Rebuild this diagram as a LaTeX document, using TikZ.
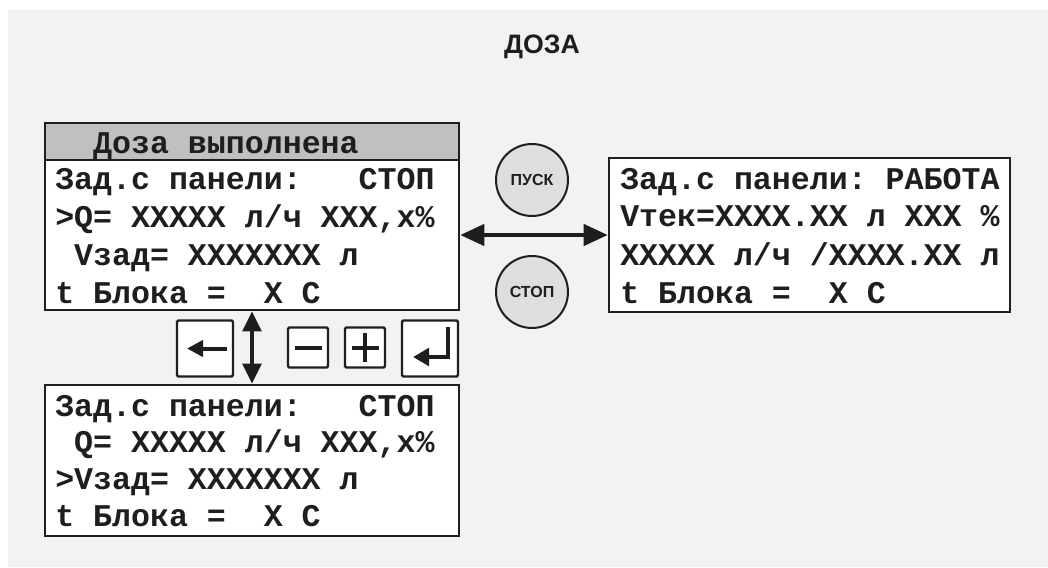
\documentclass[tikz,border=0pt]{standalone}
\usepackage{fontspec}
\newfontfamily\lcdfont{Liberation Mono}
\newfontfamily\labelfont{Liberation Sans}
\usetikzlibrary{arrows.meta}
\definecolor{panelgray}{HTML}{F2F2F2}
\definecolor{headgray}{HTML}{C0C0C0}
\definecolor{btngray}{HTML}{DEDEDE}
\definecolor{ink}{HTML}{1E1E1E}
\begin{document}
\begin{tikzpicture}[x=0.75pt,y=-0.75pt,
    screen/.style ={draw=ink, line width=2pt, fill=white, inner sep=0pt},
    row/.style ={anchor=base west, inner sep=0pt, text=ink,
                 font=\lcdfont\bfseries\fontsize{23.7}{26}\selectfont},
    button/.style ={circle, draw=ink, line width=1.5pt, fill=btngray, minimum size=54pt,
                 inner sep=0pt, text=ink, font=\labelfont\bfseries\fontsize{12}{13}\selectfont},
    keybox/.style ={draw=ink, line width=1.8pt, rounded corners=1pt, fill=white, inner sep=0pt},
    icon/.style ={draw=ink, line width=3pt},
    link/.style ={draw=ink, line width=2.6pt,
                 {Triangle[length=18pt,width=16pt]}-{Triangle[length=18pt,width=16pt]}}]
   \useasboundingbox (0,0) rectangle (1048,567);
   \fill[panelgray] (8,10) rectangle (1048,567);

   \node[text=ink, font=\labelfont\bfseries\fontsize{20}{22}\selectfont] (title) at (542,47) {ДОЗА};

   % screens
   \node[screen, minimum width=310.5pt, minimum height=140.25pt] (dose) at (252,216.5) {};
   \node[screen, fill=headgray, minimum width=310.5pt, minimum height=27.75pt] (head) at (252,141.5) {};
   \node[screen, minimum width=300.75pt, minimum height=115.5pt] (run) at (809.5,235) {};
   \node[screen, minimum width=310.5pt, minimum height=113.25pt] (setv) at (252,460.5) {};

   \node[row] (h0) at (55,153) {~~Доза выполнена};
   \node[row] (a1) at (55,189) {Зад.с панели:~~~СТОП};
   \node[row] (a2) at (55,227) {>Q=~XXXXX~л/ч~XXX,x\%};
   \node[row] (a3) at (55,265) {~Vзад=~XXXXXXX~л};
   \node[row] (a4) at (55,303) {t~Блока~=~~X~С};

   \node[row] (b1) at (620,189) {Зад.с панели:~РАБОТА};
   \node[row] (b2) at (620,226) {Vтек=XXXX.XX~л~XXX~\%};
   \node[row] (b3) at (620,265) {XXXXX~л/ч~/XXXX.XX~л};
   \node[row] (b4) at (620,303) {t~Блока~=~~X~С};

   \node[row] (c1) at (55,416) {Зад.с панели:~~~СТОП};
   \node[row] (c2) at (55,452) {~Q=~XXXXX~л/ч~XXX,x\%};
   \node[row] (c3) at (55,489) {>Vзад=~XXXXXXX~л};
   \node[row] (c4) at (55,526) {t~Блока~=~~X~С};

   % buttons
   \node[button] (start) at (532,180) {ПУСК};
   \node[button] (stop) at (532,292) {СТОП};

   \draw[link] (run.west -| dose.east) to (run.west);
   \draw[link, {Triangle[length=15pt,width=14pt]}-{Triangle[length=15pt,width=14pt]}] (dose.south) to (setv.north);

   % keys
   \node[keybox, minimum size=42pt] (back) at (205,348.5) {};
   \node[keybox, minimum size=30pt] (minus) at (308,347.5) {};
   \node[keybox, minimum size=30pt] (plus) at (365,347.5) {};
   \node[keybox, minimum size=42pt] (enter) at (430,348.5) {};

   \draw[icon, -{Triangle[length=12pt,width=12pt]}]
      ([shift={(22,0)}]back.center) -- ([shift={(-18,0)}]back.center);
   \draw[icon] ([shift={(-13.5,0)}]minus.center) -- ([shift={(13.5,0)}]minus.center);
   \draw[icon] ([shift={(-13.5,0)}]plus.center) -- ([shift={(13.5,0)}]plus.center);
   \draw[icon] ([shift={(0,-14.5)}]plus.center) -- ([shift={(0,14.5)}]plus.center);
   \draw[icon, -{Triangle[length=12pt,width=13pt]}]
      ([shift={(18,-21.5)}]enter.center) -- ([shift={(18,8.5)}]enter.center) -- ([shift={(-17,8.5)}]enter.center);
 \end{tikzpicture}
\end{document}
